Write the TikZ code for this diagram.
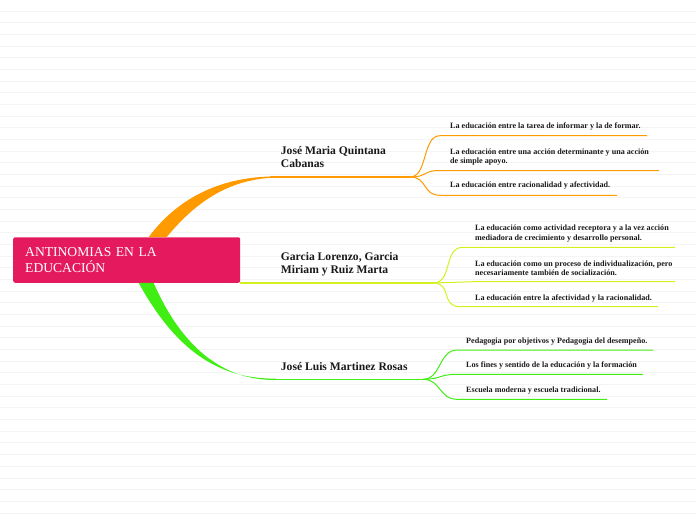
\documentclass[tikz,border=0pt]{standalone}
\usepackage{fontspec}
\setmainfont{Liberation Serif}
\usetikzlibrary{positioning, calc}
\definecolor{myroot}{RGB}{229,25,94}
\definecolor{myorange}{RGB}{255,154,0}
\definecolor{mylime}{RGB}{212,240,30}
\definecolor{mygreen}{RGB}{64,238,20}
\definecolor{mytext}{RGB}{25,25,25}
\definecolor{myrule}{RGB}{244,244,244}
\tikzset{
  rootbox/.style={rectangle, fill=myroot, rounded corners=2pt,
    minimum width=227pt, minimum height=45.5pt, text width=203pt,
    inner xsep=12pt, align=left, text=white, font=\fontsize{13.6}{16.5}\selectfont},
  topic/.style={anchor=west, inner sep=0pt, align=left, text=mytext,
    font=\fontsize{11.6}{13}\selectfont\bfseries},
  leaf/.style={anchor=west, inner sep=0pt, align=left, text=mytext,
    font=\fontsize{8.1}{9.4}\selectfont\bfseries},
  ruleline/.style={myrule, line width=0.6pt},
  twig/.style={line width=1pt},
  bough/.style={line width=1.2pt}
}
\begin{document}
\begin{tikzpicture}[x=1pt, y=-1pt]
  \useasboundingbox (0,0) rectangle (696,520);
  \foreach \k in {0,...,43}
    \draw[ruleline] (0,{11+11.67*\k}) -- (696,{11+11.67*\k});

  \node[rootbox] (root) at (126.7,260) {ANTINOMIAS EN LA\\EDUCACIÓN};

  % Topics
  \node[topic] (quintana) at (280.7,157) {José Maria Quintana\\Cabanas};
  \node[topic] (garcia) at (280.7,264.2) {Garcia Lorenzo, Garcia\\Miriam y Ruiz Marta};
  \node[topic] (martinez) at (280.7,366.7) {José Luis Martinez Rosas};

  % Leaves
  \node[leaf] (q1) at (450,127) {La educación entre la tarea de informar y la de formar.};
  \node[leaf] (q2) at (450,157.2) {La educación entre una acción determinante y una acción\\de simple apoyo.};
  \node[leaf] (q3) at (450,186) {La educación entre racionalidad y afectividad.};
  \node[leaf] (g1) at (475,233.7) {La educación como actividad receptora y a la vez acción\\mediadora de crecimiento y desarrollo personal.};
  \node[leaf] (g2) at (475,268.3) {La educación como un proceso de individualización, pero\\necesariamente también de socialización.};
  \node[leaf] (g3) at (475,298.3) {La educación entre la afectividad y la racionalidad.};
  \node[leaf] (m1) at (466,341.7) {Pedagogia por objetivos y Pedagogia del desempeño.};
  \node[leaf] (m2) at (466,366) {Los fines y sentido de la educación y la formación};
  \node[leaf] (m3) at (466,391) {Escuela moderna y escuela tradicional.};

  % Hubs and line ends
  \coordinate (qa) at (270,177);    \coordinate (qhub) at (410,177);
  \coordinate (ga) at (240,283);    \coordinate (ghub) at (433,283);
  \coordinate (ma) at (270,379.3);  \coordinate (mhub) at (423,379.3);
  \coordinate (q1s) at (440,135.7); \coordinate (q1e) at (647,135.7);
  \coordinate (q2s) at (440,170.5); \coordinate (q2e) at (659,170.5);
  \coordinate (q3s) at (440,195.3); \coordinate (q3e) at (617,195.3);
  \coordinate (g1s) at (463,247.3); \coordinate (g1e) at (675,247.3);
  \coordinate (g2s) at (473,281.7); \coordinate (g2e) at (675,281.7);
  \coordinate (g3s) at (460,306.7); \coordinate (g3e) at (658,306.7);
  \coordinate (m1s) at (457,350);   \coordinate (m1e) at (653,350);
  \coordinate (m2s) at (457,374.3); \coordinate (m2e) at (643,374.3);
  \coordinate (m3s) at (457,399.3); \coordinate (m3e) at (607,399.3);

  % Thick tapered branches out of the root
  \fill[myorange] ($(root.north)+(22,0)$) .. controls (180,195) and (225,176.4) .. ($(qa)+(6,-0.6)$)
    -- ($(qa)+(6,0.6)$) .. controls (232,178.8) and (198,199) .. ($(root.north)+(40,0)$) -- cycle;
  \fill[mygreen] ($(root.south)+(12,0)$) .. controls (180,358) and (225,378.7) .. ($(ma)+(6,-0.6)$)
    -- ($(ma)+(6,0.6)$) .. controls (232,380.8) and (186,357) .. ($(root.south)+(27,0)$) -- cycle;

  % Connections
  \draw[bough, myorange] (qa) -- (qhub);
  \draw[bough, mylime] (ga) -- (ghub);
  \draw[bough, mygreen] (ma) -- (mhub);
  \foreach \s in {1,2,3} {
    \draw[twig, myorange] (qhub) .. controls +(18,0) and +(-18,0) .. (q\s s) -- (q\s e);
    \draw[twig, mylime] (ghub) .. controls +(20,0) and +(-20,0) .. (g\s s) -- (g\s e);
    \draw[twig, mygreen] (mhub) .. controls +(18,0) and +(-18,0) .. (m\s s) -- (m\s e);
  }
\end{tikzpicture}
\end{document}
